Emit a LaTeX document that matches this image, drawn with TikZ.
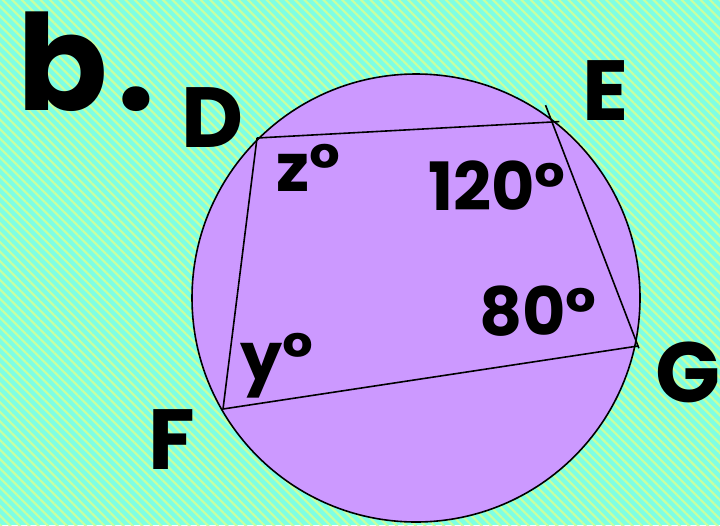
\documentclass[tikz,border=0pt]{standalone}
\usepackage{fontspec}
\setmainfont{Poppins}
\definecolor{seabg}{RGB}{126, 255, 228}
\definecolor{stripe}{RGB}{200, 255, 160}
\definecolor{lilac}{RGB}{204, 153, 255}
\usetikzlibrary{calc, patterns.meta}

\begin{document}
\begin{tikzpicture}[x=0.75pt, y=-0.75pt,
    vlabel/.style={font=\fontsize{64}{64}\selectfont\bfseries, inner sep=0pt},
    alabel/.style={font=\fontsize{50}{50}\selectfont\bfseries, inner sep=0pt},
    edge/.style={draw=black, line width=1.2pt}]
  % background
  \fill[seabg] (0,0) rectangle (720,525);
  \fill[pattern={Lines[angle=-45, distance=5pt, line width=1.6pt]}, pattern color=stripe]
    (0,0) rectangle (720,525);
  \useasboundingbox (0,0) rectangle (720,525);

  % circle
  \coordinate (O) at (416,298);
  \draw[fill=lilac, line width=1.2pt] (O) circle[radius=224];

  % vertices
  \coordinate (D) at (257,138);
  \coordinate (E) at (552,122);
  \coordinate (G) at (638,346);
  \coordinate (F) at (223,409);

  \draw[edge] (D) -- ($(D)!1.025!(E)$);
  \draw[edge] ($(G)!1.075!(E)$) -- ($(E)!1.01!(G)$);
  \draw[edge] (G) -- (F) -- (D);

  % labels
  \node[font=\fontsize{100}{100}\selectfont\bfseries, inner sep=0pt] (part) at (86,62) {b\hspace{7pt}.};
  \node[vlabel] (labD) at (213,118) {D};
  \node[vlabel] (labE) at (606,91) {E};
  \node[vlabel] (labF) at (172,440) {F};
  \node[vlabel] (labG) at (688,372) {G};

  \node[alabel] (angz) at (308,168) {z°};
  \node[alabel] (ange) at (497,186) {120°};
  \node[alabel] (angg) at (538,311) {80°};
  \node[alabel] (angy) at (277,366) {y°};
\end{tikzpicture}
\end{document}
